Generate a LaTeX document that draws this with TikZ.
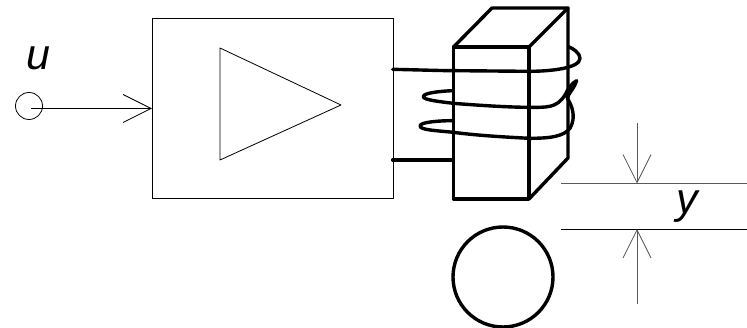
\documentclass[tikz,border=0pt]{standalone}
\usepackage{fontspec}
\setmainfont{Liberation Sans}
\usetikzlibrary{arrows.meta}
\tikzset{
  thin line/.style={draw=black,line width=0.8pt},
  heavy/.style={draw=black,line width=3.4pt,line join=round,line cap=round},
  wire/.style={draw=black,line width=3.4pt,line cap=round,line join=round},
  barb/.style={-{Straight Barb[length=28pt,width=28pt,line width=0.8pt]}},
  grey line/.style={draw=black!65,line width=0.9pt},
  lbl/.style={font=\fontsize{43}{43}\selectfont\itshape,inner sep=0pt,anchor=base}
}
\begin{document}
\begin{tikzpicture}[x=1pt,y=-1pt]
\useasboundingbox (0,0) rectangle (747,328);
\node[thin line,minimum width=241pt,minimum height=180pt,inner sep=0pt,outer sep=0pt] (box) at (272.5,108) {};
\node[thin line,circle,minimum size=27pt,inner sep=0pt,outer sep=0pt] (src) at (29,106) {};
\coordinate (srcc) at (31,108.5);
\coordinate (boxin) at (152,108.5);
\draw[thin line,barb] (srcc) -- (boxin);
\draw[thin line,line join=round] (220,48) -- (341,105) -- (220,160) -- cycle;
% magnet core
\draw[heavy] (453.5,47) rectangle (529,199);
\draw[heavy] (453.5,47) -- (492,8) -- (568,8) -- (529,47);
\draw[heavy] (568,8) -- (568,158) -- (529,199);
\node[heavy,circle,minimum size=100pt,inner sep=0pt,outer sep=0pt] (ball) at (503,277) {};
% winding
\begin{scope}[shift={(380,0)},x=0.3333pt,y=-0.3333pt]
\draw[wire] (38,208) .. controls (130,210) and (180,212) .. (220,212)
  -- (448,214) .. controls (510,214) and (600,205) .. (600,175)
  .. controls (600,160) and (580,145) .. (565,140);
\draw[wire] (220,272) .. controls (170,274) and (130,280) .. (130,290)
  .. controls (130,300) and (180,305) .. (220,310)
  .. controls (320,318) and (400,322) .. (448,322)
  .. controls (500,322) and (530,325) .. (555,285)
  .. controls (565,265) and (575,250) .. (590,242)
  .. controls (585,262) and (565,280) .. (562,295)
  .. controls (575,315) and (590,350) .. (570,385)
  .. controls (550,410) and (510,415) .. (448,415)
  .. controls (350,410) and (280,405) .. (220,397)
  .. controls (170,392) and (120,390) .. (120,378)
  .. controls (120,366) and (180,362) .. (220,362);
\draw[wire] (38,480) -- (220,480);
\end{scope}
% gap
\coordinate (g1l) at (561,183.5); \coordinate (g1r) at (747,183.5);
\coordinate (g2l) at (561,229); \coordinate (g2r) at (747,229);
\coordinate (a1) at (637,123.5); \coordinate (a1e) at (637,183.5);
\coordinate (a2) at (637,304); \coordinate (a2e) at (637,229);
\draw[grey line] (g1l) -- (g1r);
\draw[thin line] (g2l) -- (g2r);
\draw[grey line,barb] (a1) -- (a1e);
\draw[grey line,barb] (a2) -- (a2e);
\node[lbl] (u) at (38,70) {u};
\node[lbl] (y) at (687,214) {y};
\end{tikzpicture}
\end{document}
